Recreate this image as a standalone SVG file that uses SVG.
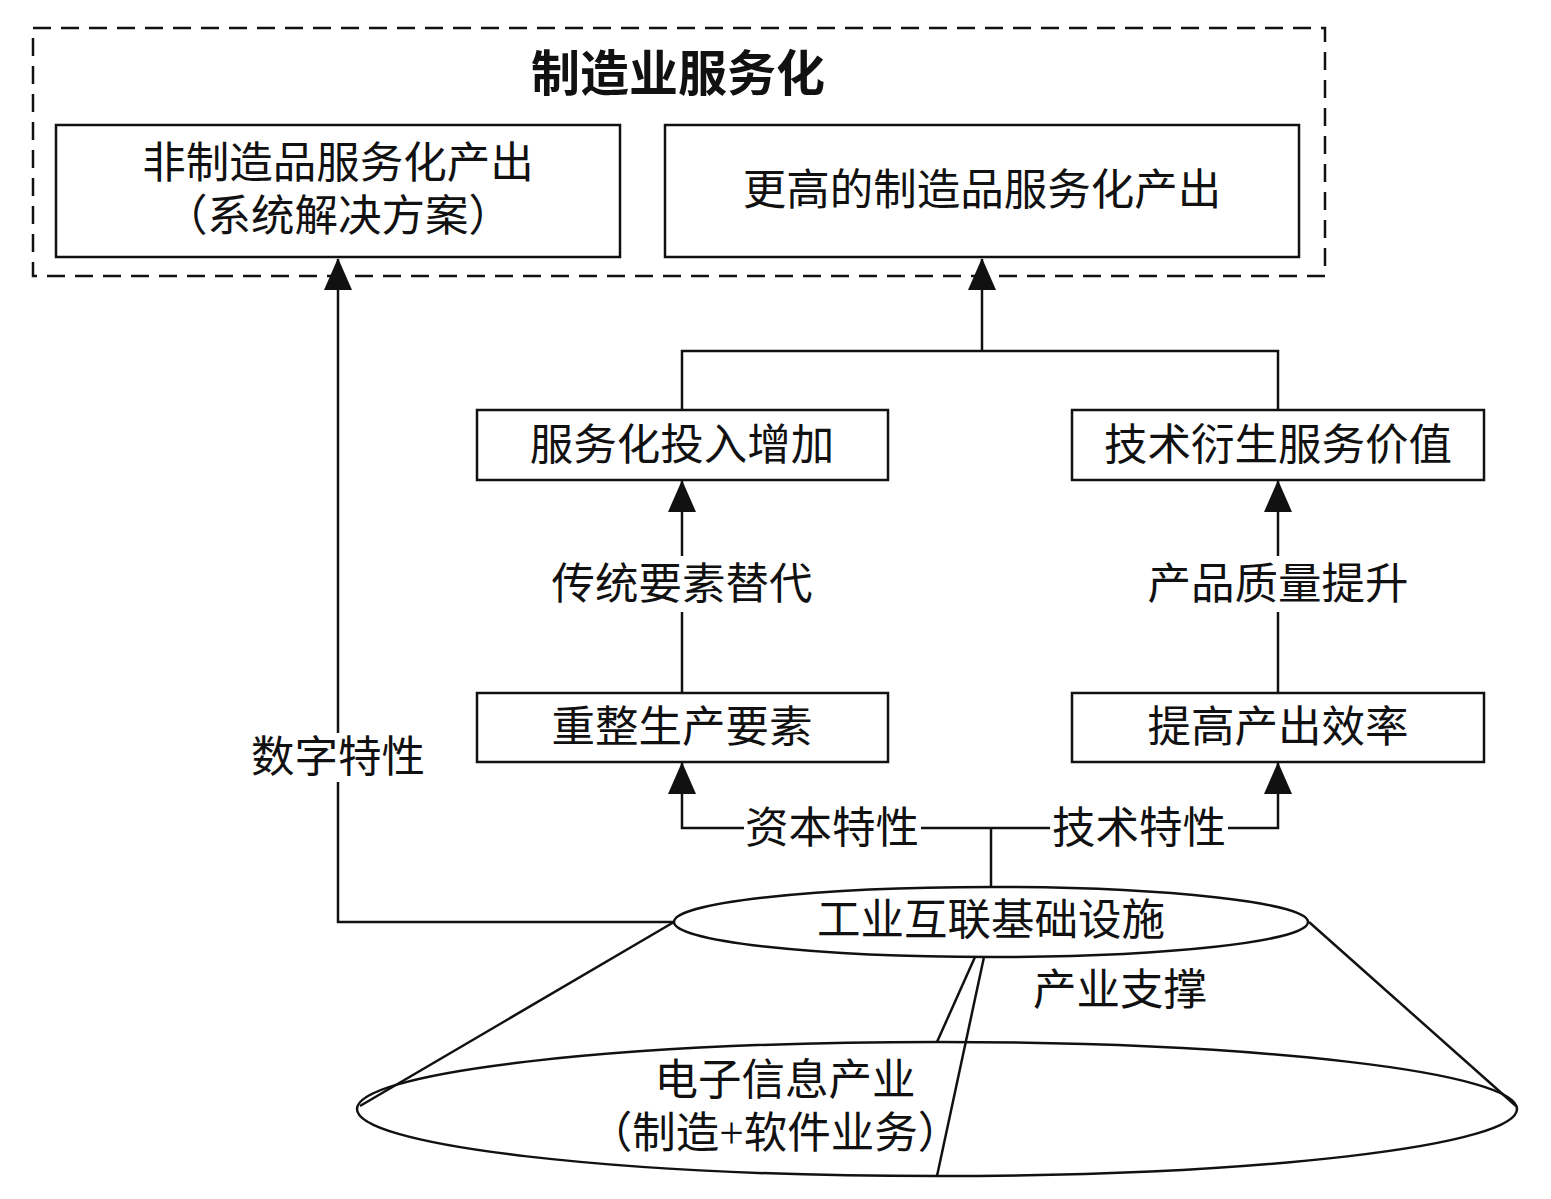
<svg xmlns="http://www.w3.org/2000/svg" width="1551" height="1199" viewBox="0 0 1551 1199">
<style>
  text { font-family: "Liberation Serif", "Noto Sans CJK SC", serif; font-size: 43.5px; fill: #111; text-anchor: middle; dominant-baseline: central; }
  .title { font-size: 49px; font-weight: bold; }
  .box { fill: #fff; stroke: #111; stroke-width: 2.5; }
  .line { fill: none; stroke: #111; stroke-width: 2.5; }
  .dash { fill: none; stroke: #111; stroke-width: 2.5; stroke-dasharray: 18 10; }
</style>
<defs>
  <marker id="arrow" viewBox="0 0 32 28" refX="31" refY="14" markerWidth="32" markerHeight="28" markerUnits="userSpaceOnUse" orient="auto">
    <path d="M0,0 L32,14 L0,28 Z" fill="#111"/>
  </marker>
</defs>
<rect width="1551" height="1199" fill="#fff"/>

<g id="container">
  <rect class="dash" x="33" y="28" width="1292" height="248"/>
  <text class="title" x="678" y="74">制造业服务化</text>
</g>

<g id="connectors">
  <!-- 数字特性 -->
  <polyline class="line" points="674,922 338,922 338,782"/>
  <polyline class="line" points="338,733 338,259" marker-end="url(#arrow)"/>
  <!-- merge to box2 -->
  <polyline class="line" points="682,410 682,351 1278,351 1278,410"/>
  <line class="line" x1="982" y1="351" x2="982" y2="259" marker-end="url(#arrow)"/>
  <!-- 传统要素替代 -->
  <line class="line" x1="682" y1="693" x2="682" y2="612"/>
  <line class="line" x1="682" y1="556" x2="682" y2="481" marker-end="url(#arrow)"/>
  <!-- 产品质量提升 -->
  <line class="line" x1="1278" y1="693" x2="1278" y2="612"/>
  <line class="line" x1="1278" y1="556" x2="1278" y2="481" marker-end="url(#arrow)"/>
  <!-- 资本特性 / 技术特性 -->
  <line class="line" x1="991" y1="887" x2="991" y2="828"/>
  <line class="line" x1="921" y1="828" x2="1050" y2="828"/>
  <polyline class="line" points="744,828 682,828 682,763" marker-end="url(#arrow)"/>
  <polyline class="line" points="1228,828 1278,828 1278,763" marker-end="url(#arrow)"/>
  <!-- cone -->
  <line class="line" x1="674" y1="922" x2="360" y2="1106"/>
  <line class="line" x1="1309" y1="922" x2="1516" y2="1106"/>
  <line class="line" x1="975" y1="957" x2="937" y2="1042"/>
  <line class="line" x1="984" y1="957" x2="937" y2="1176"/>
</g>

<g id="labels">
  <text x="338" y="757">数字特性</text>
  <text x="682" y="584">传统要素替代</text>
  <text x="1278" y="584">产品质量提升</text>
  <text x="832" y="828">资本特性</text>
  <text x="1139" y="828">技术特性</text>
  <text x="1120" y="990">产业支撑</text>
</g>

<g id="node-noncmfg">
  <rect class="box" x="56" y="125" width="564" height="132"/>
  <text x="338" y="163">非制造品服务化产出</text>
  <text x="338" y="216">（系统解决方案）</text>
</g>
<g id="node-higher">
  <rect class="box" x="665" y="125" width="634" height="132"/>
  <text x="982" y="190">更高的制造品服务化产出</text>
</g>
<g id="node-input">
  <rect class="box" x="477" y="410" width="411" height="70"/>
  <text x="682" y="445">服务化投入增加</text>
</g>
<g id="node-techvalue">
  <rect class="box" x="1072" y="410" width="412" height="70"/>
  <text x="1278" y="445">技术衍生服务价值</text>
</g>
<g id="node-reorg">
  <rect class="box" x="477" y="693" width="411" height="69"/>
  <text x="682" y="727">重整生产要素</text>
</g>
<g id="node-efficiency">
  <rect class="box" x="1072" y="693" width="412" height="69"/>
  <text x="1278" y="727">提高产出效率</text>
</g>
<g id="node-infra">
  <ellipse class="line" cx="991" cy="922" rx="317" ry="35" fill="#fff"/>
  <text x="991" y="920">工业互联基础设施</text>
</g>
<g id="node-industry">
  <ellipse class="line" cx="937" cy="1109" rx="580" ry="67"/>
  <text x="785" y="1080">电子信息产业</text>
  <text x="775" y="1133">（制造+软件业务）</text>
</g>
</svg>
